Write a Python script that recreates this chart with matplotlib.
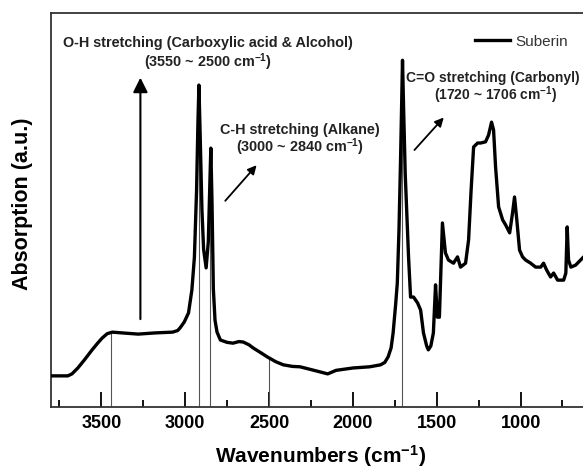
import matplotlib
matplotlib.use("Agg")
import matplotlib.pyplot as plt
import numpy as np

plt.rcParams['font.family'] = ['Liberation Sans', 'DejaVu Sans']
plt.rcParams['mathtext.default'] = 'regular'

# FT-IR spectrum of suberin (wavenumber in cm-1, absorption in a.u.)
wavenumber = [3800, 3700, 3675, 3640, 3600, 3555, 3520, 3495, 3465, 3435,
              3375, 3280, 3180, 3075, 3045, 3030, 3005, 2980, 2960, 2945,
              2932, 2924, 2918, 2910, 2900, 2890, 2875, 2862, 2852, 2847,
              2840, 2832, 2822, 2810, 2790, 2750, 2715, 2680, 2655, 2620,
              2595, 2550, 2510, 2460, 2415, 2360, 2315, 2250, 2195, 2150,
              2100, 2000, 1900, 1835, 1810, 1790, 1772, 1760, 1745, 1735,
              1725, 1716, 1704, 1697, 1688, 1668, 1656, 1638, 1614, 1596,
              1579, 1560, 1550, 1535, 1520, 1507, 1496, 1484, 1466, 1448,
              1430, 1400, 1376, 1358, 1328, 1310, 1295, 1280, 1256, 1238,
              1209, 1191, 1173, 1161, 1149, 1131, 1107, 1089, 1065, 1048,
              1036, 1024, 1006, 988, 970, 940, 910, 880, 863, 845,
              821, 803, 779, 743, 730, 722, 714, 700, 672, 642,
              624, 500, 400]
absorption = [7.9, 7.9, 8.4, 9.9, 12.0, 14.5, 16.3, 17.5, 18.6, 19.0,
              18.8, 18.5, 18.8, 19.0, 19.4, 20.1, 21.6, 23.9, 29.7, 38.0,
              55.0, 72.0, 81.7, 68.0, 50.0, 40.0, 35.3, 42.0, 58.0, 65.7,
              52.0, 30.0, 22.0, 19.0, 17.0, 16.4, 16.2, 16.6, 16.5, 15.8,
              15.0, 13.8, 12.7, 11.5, 10.7, 10.3, 10.2, 9.5, 8.9, 8.4,
              9.3, 9.9, 10.2, 10.7, 11.3, 12.7, 15.0, 18.8, 26.0, 31.5,
              45.0, 62.0, 88.0, 75.0, 59.4, 38.1, 27.9, 27.9, 26.4, 24.6,
              18.8, 15.5, 14.5, 15.5, 18.8, 31.0, 22.8, 22.8, 46.7, 39.1,
              37.3, 36.5, 38.1, 35.5, 36.5, 42.4, 55.0, 66.0, 67.0, 67.0,
              67.3, 69.0, 72.3, 70.3, 60.9, 50.8, 47.5, 46.2, 44.2, 49.2,
              53.3, 48.2, 39.8, 38.1, 37.3, 36.5, 35.5, 35.5, 36.5, 34.8,
              33.0, 34.0, 32.2, 32.2, 34.0, 45.7, 37.3, 35.5, 36.0, 37.3,
              38.1, 39.0, 40.0]

# band positions marked with thin drop lines
band_lines = [3440, 2918, 2850, 2500, 1710]

fig = plt.figure(figsize=(5.83, 4.71), dpi=100)
ax = fig.add_axes([0.0875, 0.1359, 0.978, 0.8365])

ax.plot(wavenumber, absorption, color='black', lw=2.4, label='Suberin',
        zorder=3, solid_joinstyle='round')

tops = np.interp(band_lines, wavenumber[::-1], absorption[::-1])
ax.vlines(band_lines, 0, tops, color='#555555', lw=0.8, zorder=2)

ax.set_xlim(3800, 400)
ax.set_ylim(0, 100)
ax.set_xticks([3500, 3000, 2500, 2000, 1500, 1000])
ax.set_xticks([3750, 3250, 2750, 2250, 1750, 1250, 750], minor=True)
ax.set_yticks([])
ax.tick_params(axis='x', which='major', direction='in', length=11, width=1.3,
               labelsize=13, pad=6)
ax.tick_params(axis='x', which='minor', direction='in', length=5, width=1.3)
for lbl in ax.get_xticklabels():
    lbl.set_fontweight('bold')
for s in ax.spines.values():
    s.set_linewidth(1.3)
    s.set_color('#333333')

ax.set_xlabel('Wavenumbers (cm$^{-1}$)', fontsize=15, fontweight='bold')
ax.set_ylabel('Absorption (a.u.)', fontsize=15.5, fontweight='bold')
ax.xaxis.set_label_coords(0.472, -0.092)
ax.yaxis.set_label_coords(-0.031, 0.515)

# annotations
arrow = dict(arrowstyle='-|>', color='black', lw=1.3, mutation_scale=13)
ax.annotate('', xy=(3267, 84.3), xytext=(3267, 21.6),
            arrowprops=dict(arrowstyle='-|>', color='black', lw=1.5, mutation_scale=22))
ax.annotate('', xy=(2563, 61.9), xytext=(2772, 51.8), arrowprops=arrow)
ax.annotate('', xy=(1447, 74.0), xytext=(1644, 64.7), arrowprops=arrow)

txt = dict(fontsize=10.4, fontweight='bold', color='#222222',
           family=['Liberation Sans Narrow', 'Liberation Sans', 'DejaVu Sans'])
ax.text(2862, 92.3, 'O-H stretching (Carboxylic acid & Alcohol)', ha='center', va='center', **txt)
ax.text(2862, 87.6, '(3550 ~ 2500 cm$^{-1}$)', ha='center', va='center', **txt)
ax.text(2318, 70.3, 'C-H stretching (Alkane)', ha='center', va='center', **txt)
ax.text(2318, 66.0, '(3000 ~ 2840 cm$^{-1}$)', ha='center', va='center', **txt)
txt['fontsize'] = 10
ax.text(1685, 83.5, 'C=O stretching (Carbonyl)', ha='left', va='center', **txt)
ax.text(1149, 79.2, '(1720 ~ 1706 cm$^{-1}$)', ha='center', va='center', **txt)

ax.legend(loc='upper left', bbox_to_anchor=(0.72, 0.98), frameon=False,
          fontsize=11, handlelength=2.3, handletextpad=0.3, labelcolor='#333333')

fig.savefig('out.png', dpi=100)
